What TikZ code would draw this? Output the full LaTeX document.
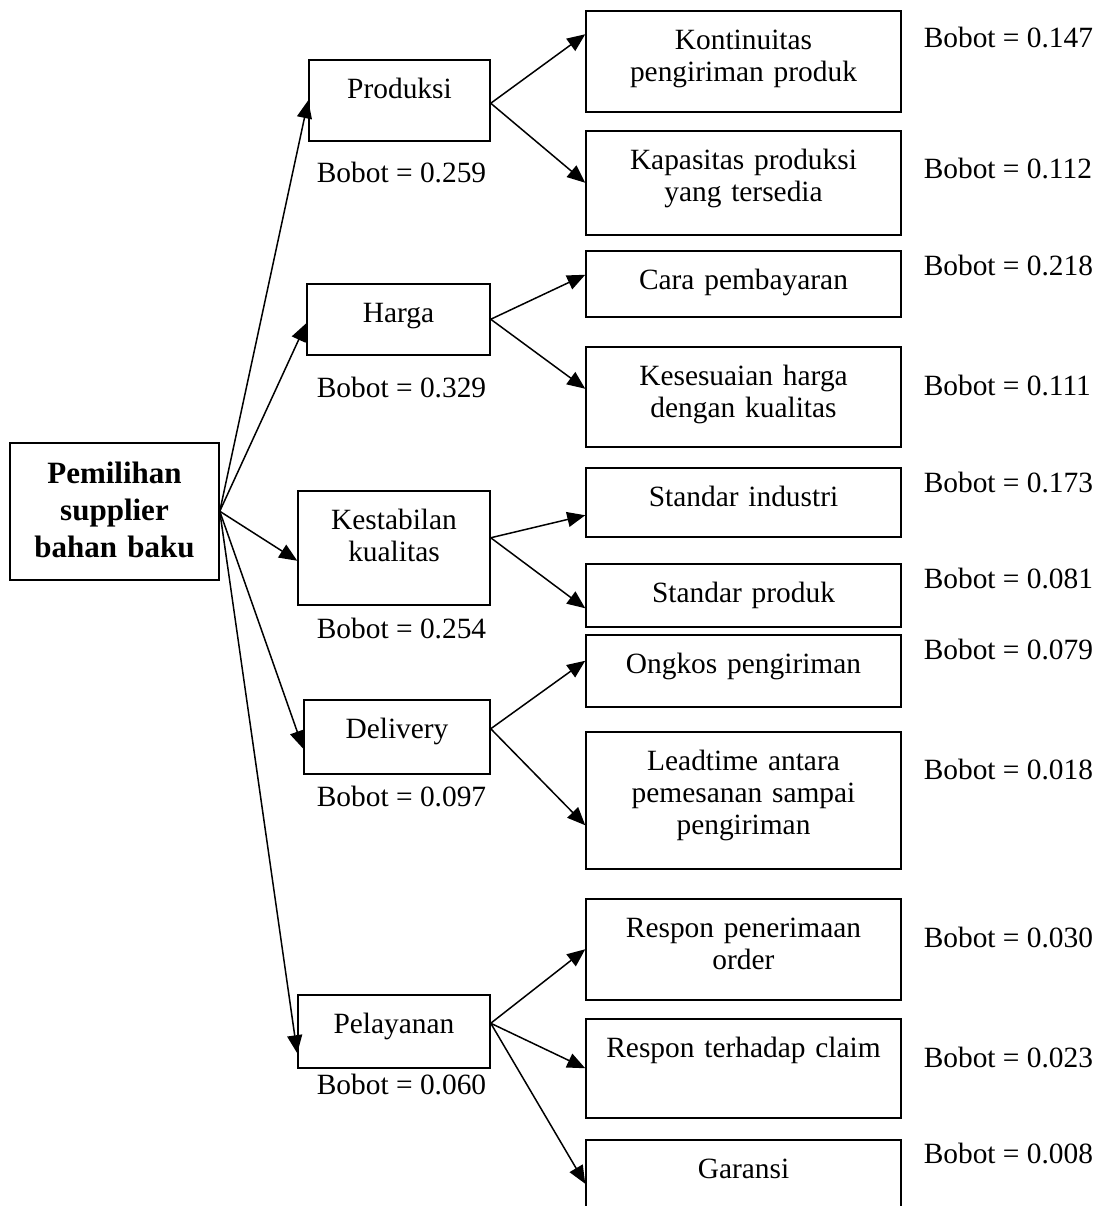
\documentclass[tikz,border=0pt]{standalone}
\usepackage{fontspec}
\setmainfont{Liberation Serif}
\usetikzlibrary{arrows.meta}

\begin{document}
\begin{tikzpicture}[x=0.5pt,y=-0.5pt,>={Triangle[length=9pt,width=7.5pt]},
  line width=0.75pt,
  box/.style={draw,anchor=north,align=center,inner sep=0pt,text height=19.5pt,
    font=\fontsize{14.7pt}{16pt}\selectfont},
  root node/.style={box,text width=104.5pt,text height=20.5pt,
    font=\fontsize{15.5pt}{18.5pt}\selectfont\bfseries},
  main node/.style={box},
  sub node/.style={box,text width=157.5pt},
  weight node/.style={inner sep=0pt,font=\fontsize{14.7pt}{16pt}\selectfont}]
  \useasboundingbox (0,0) rectangle (1094,1206);
  % goal
  \node[root node,text depth=48pt] (root) at (114.5,442) {Pemilihan\\supplier\\bahan baku};
  % criteria
  \node[main node,text width=90.5pt,text depth=21pt]   (prod)   at (399.5,59)  {Produksi};
  \node[main node,text width=91.5pt,text depth=16pt]   (harga)  at (398.5,283) {Harga};
  \node[main node,text width=96pt,text depth=37.5pt]   (kestab) at (394,490)   {Kestabilan\\kualitas};
  \node[main node,text width=93pt,text depth=17.5pt]   (deliv)  at (397,699)   {Delivery};
  \node[main node,text width=96pt,text depth=17pt]     (pelay)  at (394,994)   {Pelayanan};
  % sub criteria
  \node[sub node,text depth=31pt]   (konti)    at (743.5,10)   {Kontinuitas\\pengiriman produk};
  \node[sub node,text depth=32.5pt] (kapas)    at (743.5,130)  {Kapasitas produksi\\yang tersedia};
  \node[sub node,text depth=13.5pt] (cara)     at (743.5,250)  {Cara pembayaran};
  \node[sub node,text depth=30.5pt] (sesuai)   at (743.5,346)  {Kesesuaian harga\\dengan kualitas};
  \node[sub node,text depth=15pt]   (stdind)   at (743.5,467)  {Standar industri};
  \node[sub node,text depth=12pt]   (stdprod)  at (743.5,563)  {Standar produk};
  \node[sub node,text depth=16.5pt] (ongkos)   at (743.5,634)  {Ongkos pengiriman};
  \node[sub node,text depth=49pt]   (lead)     at (743.5,731)  {Leadtime antara\\pemesanan sampai\\pengiriman};
  \node[sub node,text depth=31pt]   (respen)   at (743.5,898)  {Respon penerimaan\\order};
  \node[sub node,text depth=30pt]   (resclaim) at (743.5,1018) {Respon terhadap claim};
  \node[sub node,text depth=24.5pt] (garansi)  at (743.5,1139) {Garansi};
  % weights
  \node[weight node,anchor=base] (wprod)   at (401.5,182)  {Bobot = 0.259};
  \node[weight node,anchor=base] (wharga)  at (401.5,397)  {Bobot = 0.329};
  \node[weight node,anchor=base] (wkestab) at (401.5,638)  {Bobot = 0.254};
  \node[weight node,anchor=base] (wdeliv)  at (401.5,806)  {Bobot = 0.097};
  \node[weight node,anchor=base] (wpelay)  at (401.5,1094) {Bobot = 0.060};
  \node[weight node,anchor=base west] (wkonti)    at (923,47)   {Bobot = 0.147};
  \node[weight node,anchor=base west] (wkapas)    at (923,178)  {Bobot = 0.112};
  \node[weight node,anchor=base west] (wcara)     at (923,275)  {Bobot = 0.218};
  \node[weight node,anchor=base west] (wsesuai)   at (923,395)  {Bobot = 0.111};
  \node[weight node,anchor=base west] (wstdind)   at (923,492)  {Bobot = 0.173};
  \node[weight node,anchor=base west] (wstdprod)  at (923,588)  {Bobot = 0.081};
  \node[weight node,anchor=base west] (wongkos)   at (923,659)  {Bobot = 0.079};
  \node[weight node,anchor=base west] (wlead)     at (923,779)  {Bobot = 0.018};
  \node[weight node,anchor=base west] (wrespen)   at (923,947)  {Bobot = 0.030};
  \node[weight node,anchor=base west] (wresclaim) at (923,1067) {Bobot = 0.023};
  \node[weight node,anchor=base west] (wgaransi)  at (923,1163) {Bobot = 0.008};

  \path[->]
    (root.east) edge (prod.west)
    (root.east) edge ([yshift=-2pt]harga.west)
    (root.east) edge ([yshift=-6.5pt]kestab.west)
    (root.east) edge ([yshift=-6pt]deliv.west)
    (root.east) edge ([yshift=-11pt]pelay.west)
    ([yshift=-1.5pt]prod.east) edge ([yshift=13.5pt]konti.west)
    ([yshift=-1.5pt]prod.east) edge (kapas.west)
    (harga.east) edge ([yshift=4.5pt]cara.west)
    (harga.east) edge ([yshift=4pt]sesuai.west)
    ([yshift=5pt]kestab.east) edge ([yshift=-6.5pt]stdind.west)
    ([yshift=5pt]kestab.east) edge ([yshift=-6.5pt]stdprod.west)
    ([yshift=4pt]deliv.east) edge ([yshift=5pt]ongkos.west)
    ([yshift=4pt]deliv.east) edge ([yshift=-12.5pt]lead.west)
    ([yshift=4pt]pelay.east) edge (respen.west)
    ([yshift=4pt]pelay.east) edge (resclaim.west)
    ([yshift=4pt]pelay.east) edge (garansi.west);
\end{tikzpicture}
\end{document}
